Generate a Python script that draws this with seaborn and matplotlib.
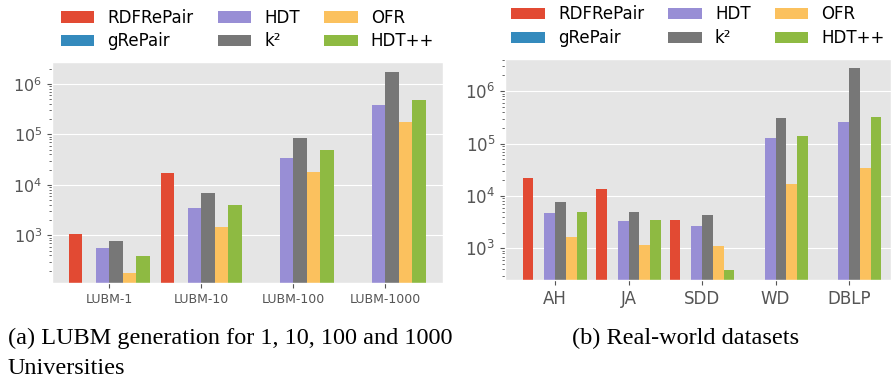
import numpy as np
import pandas as pd
import seaborn as sns
import matplotlib
matplotlib.use("Agg")
import matplotlib.pyplot as plt
from matplotlib.patches import Patch

# ---------------- data ----------------
methods = ['RDFRePair', 'gRePair', 'HDT', 'k²', 'OFR', 'HDT++']
colors = ['#E24A33', '#348ABD', '#988ED5', '#777777', '#FBC15E', '#8EBA42']

lubm_cats = ['LUBM-1', 'LUBM-10', 'LUBM-100', 'LUBM-1000']
rdfrepair_lubm = [1050, 17000, np.nan, np.nan]
grepair_lubm = [np.nan, np.nan, np.nan, np.nan]
hdt_lubm = [555, 3500, 34000, 380000]
k2_lubm = [760, 6900, 84000, 1750000]
ofr_lubm = [177, 1440, 18000, 175000]
hdtpp_lubm = [385, 4000, 49000, 475000]

real_cats = ['AH', 'JA', 'SDD', 'WD', 'DBLP']
rdfrepair_real = [22000, 13600, 3480, np.nan, np.nan]
grepair_real = [np.nan, np.nan, np.nan, np.nan, np.nan]
hdt_real = [4740, 3330, 2680, 128000, 260000]
k2_real = [7700, 4950, 4340, 310000, 2750000]
ofr_real = [1650, 1160, 1110, 17000, 34000]
hdtpp_real = [4950, 3480, 385, 140000, 325000]


def to_long(cats, series):
    df = pd.DataFrame(dict(zip(methods, series)))
    df['dataset'] = cats
    df = df.melt(id_vars='dataset', var_name='method', value_name='value')
    return df.dropna()  # gRePair has no values, its slot stays empty


lubm_df = to_long(lubm_cats, [rdfrepair_lubm, grepair_lubm, hdt_lubm, k2_lubm, ofr_lubm, hdtpp_lubm])
real_df = to_long(real_cats, [rdfrepair_real, grepair_real, hdt_real, k2_real, ofr_real, hdtpp_real])

# ---------------- plot ----------------
plt.style.use('ggplot')
palette = dict(zip(methods, colors))

fig = plt.figure(figsize=(8.91, 3.83), dpi=100)
ax1 = fig.add_axes([0.0584, 0.261, 0.4388, 0.577])
ax2 = fig.add_axes([0.5668, 0.269, 0.4332, 0.577])

for ax, df, cats in [(ax1, lubm_df, lubm_cats), (ax2, real_df, real_cats)]:
    ax.set_yscale('log')
    sns.barplot(data=df, x='dataset', y='value', hue='method', hue_order=methods,
                order=cats, palette=palette, saturation=1, errorbar=None,
                width=0.88, legend=False, ax=ax, linewidth=0)
    ax.set_xlabel('')
    ax.set_ylabel('')
    ax.grid(axis='x', visible=False)
    ax.tick_params(axis='y', labelsize=11.5, colors='#555555')

ax1.set_xlim(-0.62, 3.63)
ax1.set_ylim(114, 2.7e6)
ax1.tick_params(axis='x', labelsize=9, colors='#555555')

ax2.set_xlim(-0.68, 4.57)
ax2.set_ylim(250, 4.1e6)
ax2.tick_params(axis='x', labelsize=12, colors='#555555')
ax2.tick_params(axis='y', labelsize=12)

handles = [Patch(facecolor=c, edgecolor='none', label=m) for m, c in zip(methods, colors)]
for ax in (ax1, ax2):
    ax.legend(handles=handles, ncol=3, loc='lower center', bbox_to_anchor=(0.5, 1.0),
              frameon=False, fontsize=12, handlelength=2.0, handletextpad=0.8,
              columnspacing=1.45, labelspacing=0.35, borderpad=0.2)

fig.text(8 / 891, 1 - 328 / 383, '(a) LUBM generation for 1, 10, 100 and 1000\nUniversities',
         family='Liberation Serif', fontsize=17.5, va='top', ha='left', linespacing=1.55)
fig.text(572 / 891, 1 - 328 / 383, '(b) Real-world datasets',
         family='Liberation Serif', fontsize=17.5, va='top', ha='left')

fig.savefig('out.png', dpi=100)
